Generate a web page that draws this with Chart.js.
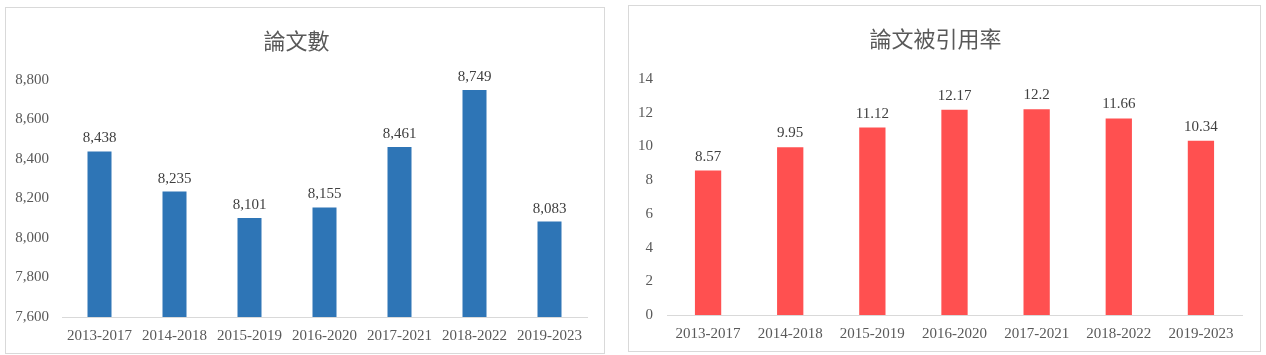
<!DOCTYPE html>
<html>
<head>
<meta charset="utf-8">
<script src="https://cdn.jsdelivr.net/npm/chart.js@4.4.1/dist/chart.umd.min.js"></script>
<style>
  html, body { margin: 0; padding: 0; background: #fff; }
  .box { position: absolute; border: 1px solid #d9d9d9; background: #fff; }
  canvas { display: block; }
</style>
</head>
<body>
<div class="box" style="left:5px; top:7px; width:598px; height:345px;">
  <canvas id="c1" width="598" height="345"></canvas>
</div>
<div class="box" style="left:628px; top:5px; width:631px; height:345px;">
  <canvas id="c2" width="631" height="345"></canvas>
</div>
<script>
const categories = ['2013-2017','2014-2018','2015-2019','2016-2020','2017-2021','2018-2022','2019-2023'];
const paperCounts = [8438, 8235, 8101, 8155, 8461, 8749, 8083];
const citationRates = [8.57, 9.95, 11.12, 12.17, 12.2, 11.66, 10.34];
const title1 = '論文數';
const title2 = '論文被引用率';

const SERIF = "'Times New Roman', 'Liberation Serif', serif";
const CJK = "'Microsoft JhengHei', 'Noto Sans CJK TC', sans-serif";

const valueLabels = {
  id: 'valueLabels',
  afterDatasetsDraw(chart, args, opts) {
    const ctx = chart.ctx;
    ctx.save();
    ctx.font = '15px ' + SERIF;
    ctx.fillStyle = '#404040';
    ctx.textAlign = 'center';
    ctx.textBaseline = 'alphabetic';
    chart.data.datasets.forEach((ds, i) => {
      chart.getDatasetMeta(i).data.forEach((bar, j) => {
        ctx.fillText(opts.format(ds.data[j]), bar.x, bar.y - opts.gap);
      });
    });
    ctx.restore();
  }
};

function makeChart(id, values, color, title, yOpts, cfg) {
  return new Chart(document.getElementById(id), {
    type: 'bar',
    data: {
      labels: categories,
      datasets: [{ data: values, backgroundColor: color, categoryPercentage: 1, barPercentage: 0.32 }]
    },
    options: {
      responsive: false,
      animation: false,
      layout: { padding: { left: 0, right: cfg.right, top: 0, bottom: 0 } },
      plugins: {
        legend: { display: false },
        tooltip: { enabled: false },
        title: {
          display: true, text: title, color: '#595959',
          font: { family: CJK, size: 22, weight: 'normal' },
          padding: { top: cfg.titleTop, bottom: cfg.titleBottom }
        },
        valueLabels: { format: cfg.format, gap: cfg.gap }
      },
      scales: {
        x: {
          grid: { display: false },
          border: { display: true, color: '#d9d9d9', width: 1 },
          ticks: { color: '#595959', font: { family: SERIF, size: 15 }, padding: cfg.xPad, maxRotation: 0, autoSkip: false },
          afterFit(s) { s.height = 36; }
        },
        y: Object.assign({
          grid: { display: false },
          border: { display: false },
          afterFit(s) { s.width = cfg.yWidth; }
        }, yOpts)
      }
    },
    plugins: [valueLabels]
  });
}

makeChart('c1', paperCounts, '#2E75B6', title1, {
  min: 7600, max: 8800,
  ticks: { stepSize: 200, color: '#595959', font: { family: SERIF, size: 15 }, padding: 5,
           callback: v => v.toLocaleString('en-US') }
}, { right: 17, yWidth: 56, titleTop: 19.3, titleBottom: 26.3, gap: 9, xPad: 2,
     format: v => v.toLocaleString('en-US') });

makeChart('c2', citationRates, '#FF5050', title2, {
  min: 0, max: 14,
  ticks: { stepSize: 2, color: '#595959', font: { family: SERIF, size: 15 }, padding: 6 }
}, { right: 18, yWidth: 38, titleTop: 19.5, titleBottom: 27.1, gap: 10, xPad: 2,
     format: v => String(v) });
</script>
</body>
</html>
